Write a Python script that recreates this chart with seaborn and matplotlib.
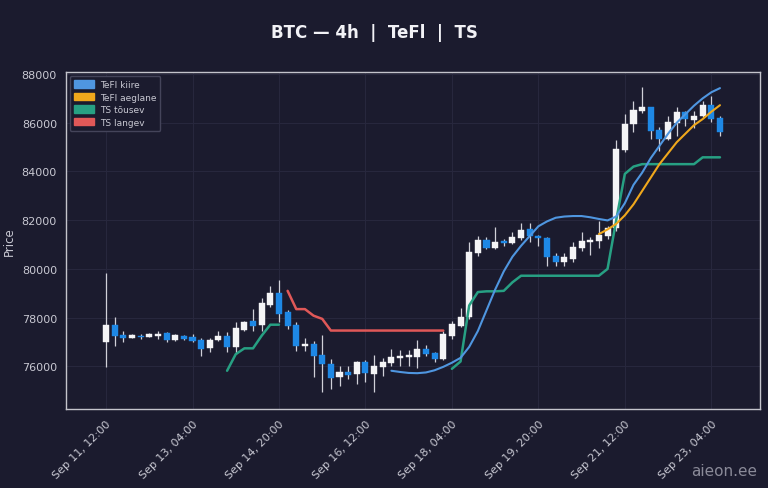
import numpy as np
import pandas as pd
import matplotlib
matplotlib.use("Agg")
import matplotlib.pyplot as plt
import matplotlib.patches as mpatches
import seaborn as sns

# ---- data (4h candles, Sep 11 12:00 -> Sep 23 08:00) ----
opens = [76990, 77696, 77286, 77177, 77260, 77218, 77260, 77368, 77082, 77260,
         77205, 77096, 76740, 77082, 77232, 76780, 77505, 77850, 77710, 78518,
         78998, 78218, 77696, 76850, 76917, 76465, 76096, 75550, 75755, 75685,
         76165, 75685, 75960, 76124, 76330, 76390, 76370, 76710, 76550, 76300,
         77260, 77668, 78012, 80650, 81200, 80845, 81130, 81050, 81255, 81640,
         81365, 81255, 80520, 80270, 80405, 80845, 81120, 81160, 81365, 81665,
         84880, 85950, 86500, 86630, 85700, 85330, 85980, 86430, 86120, 86290,
         86740, 86180]
closes = [77700, 77232, 77150, 77286, 77205, 77340, 77314, 77068, 77273, 77123,
          77055, 76711, 77096, 77232, 76780, 77560, 77832, 77668, 78587, 78998,
          78150, 77643, 76850, 76917, 76437, 76082, 75520, 75755, 75660, 76165,
          75725, 76000, 76165, 76370, 76410, 76450, 76710, 76505, 76300, 77330,
          77740, 78012, 80680, 81200, 80845, 81120, 81075, 81300, 81600, 81340,
          81255, 80480, 80270, 80480, 80890, 81160, 81200, 81390, 81665, 84920,
          85950, 86535, 86630, 85670, 85330, 86010, 86430, 86150, 86260, 86740,
          86150, 85600]
highs = [79831, 78037, 77462, 77340, 77340, 77370, 77450, 77395, 77340, 77300,
         77340, 77178, 77178, 77450, 77397, 77807, 77860, 78340, 78800, 79285,
         79556, 78300, 77807, 77150, 77050, 77290, 76300, 76025, 76000, 76230,
         76275, 76465, 76330, 76710, 76680, 76680, 77096, 76890, 76600, 77470,
         77870, 78380, 81090, 81370, 81300, 81700, 81240, 81500, 81900, 81870,
         81390, 81300, 80650, 80650, 81110, 81500, 81300, 81950, 81750, 85300,
         86360, 86900, 87455, 86630, 85810, 86290, 86630, 86500, 86500, 86900,
         87110, 86290]
lows = [75960, 76822, 76986, 77150, 77123, 77190, 77123, 77000, 77050, 77080,
        76986, 76436, 76573, 77050, 76575, 76506, 77450, 77462, 77460, 78425,
        77807, 77530, 76643, 76640, 75550, 74934, 75070, 75180, 75480, 75275,
        75340, 74960, 75615, 76030, 76030, 76030, 75920, 76410, 76190, 76250,
        77120, 77600, 77943, 80540, 80820, 80820, 80950, 81020, 81200, 81100,
        80950, 80130, 80130, 80130, 80270, 80745, 80570, 80845, 81220, 81570,
        84790, 85600, 86400, 85330, 84850, 85300, 85470, 85870, 85800, 86250,
        86020, 85470]

tefl_fast_start = 33
tefl_fast = [75820, 75770, 75730, 75720, 75750, 75840, 75980, 76150, 76350, 76800,
             77450, 78300, 79150, 79900, 80500, 80950, 81350, 81750, 81950, 82100,
             82150, 82170, 82170, 82120, 82050, 81990, 82150, 82700, 83450, 83950,
             84550, 85050, 85550, 86000, 86350, 86700, 87000, 87250, 87420]
tefl_slow_start = 57
tefl_slow = [81430, 81620, 81850, 82200, 82650, 83200, 83750, 84300, 84750, 85200,
             85550, 85900, 86150, 86450, 86720]
ts_up1_start = 14
ts_up1 = [75820, 76500, 76740, 76740, 77260, 77710, 77710]
ts_up2_start = 40
ts_up2 = [75900, 76200, 78500, 79050, 79080, 79080, 79100, 79450, 79720, 79720,
          79720, 79720, 79720, 79720, 79720, 79720, 79720, 79720, 80000, 82000,
          83900, 84200, 84300, 84300, 84300, 84300, 84300, 84300, 84300, 84580,
          84580, 84580]
ts_down_start = 21
ts_down = [79100, 78350, 78350, 78080, 77950, 77470, 77470, 77470, 77470, 77470,
           77470, 77470, 77470, 77470, 77470, 77470, 77470, 77470, 77470]

tick_pos = [0, 10, 20, 30, 40, 50, 60, 70]
tick_labels = ["Sep 11, 12:00", "Sep 13, 04:00", "Sep 14, 20:00", "Sep 16, 12:00",
               "Sep 18, 04:00", "Sep 19, 20:00", "Sep 21, 12:00", "Sep 23, 04:00"]

# ---- style ----
BG = "#1b1b2e"
UP = "#f4f4f6"
DOWN = "#1e88e5"
WICK = "#d0d0d8"
C_FAST = "#4f96e0"
C_SLOW = "#f0a81c"
C_UP = "#27a083"
C_DOWN = "#e05858"
TXT = "#c8c8d2"

sns.set_theme(style="dark")
plt.rcParams.update({
    "figure.facecolor": BG,
    "axes.facecolor": BG,
    "savefig.facecolor": BG,
    "text.color": TXT,
    "axes.labelcolor": TXT,
    "xtick.color": TXT,
    "ytick.color": TXT,
})
plt.rcParams["font.family"] = ["DejaVu Sans"]

fig = plt.figure(figsize=(7.68, 4.89), dpi=100)
ax = fig.add_axes([66 / 768, 1 - 410 / 489, (760 - 66) / 768, (410 - 73.3) / 489])

df = pd.DataFrame({"i": np.arange(len(opens)), "open": opens, "close": closes,
                   "high": highs, "low": lows})
df["up"] = df["close"] >= df["open"]
df["bot"] = df[["open", "close"]].min(axis=1)
df["h"] = (df["close"] - df["open"]).abs().clip(lower=45)

# wicks
ax.vlines(df["i"], df["low"], df["high"], color=WICK, linewidth=0.9, zorder=2)
# bodies
cols = np.where(df["up"], UP, DOWN)
ax.bar(df["i"], df["h"], bottom=df["bot"], width=0.7, color=cols,
       edgecolor=cols, linewidth=0.3, zorder=3)

def seg(start, vals):
    return pd.DataFrame({"i": np.arange(start, start + len(vals)), "v": vals})

sns.lineplot(data=seg(ts_up1_start, ts_up1), x="i", y="v", ax=ax, color=C_UP, linewidth=1.8, zorder=4)
sns.lineplot(data=seg(ts_up2_start, ts_up2), x="i", y="v", ax=ax, color=C_UP, linewidth=1.8, zorder=4)
sns.lineplot(data=seg(ts_down_start, ts_down), x="i", y="v", ax=ax, color=C_DOWN, linewidth=1.8, zorder=4)
sns.lineplot(data=seg(tefl_fast_start, tefl_fast), x="i", y="v", ax=ax, color=C_FAST, linewidth=1.5, zorder=5)
sns.lineplot(data=seg(tefl_slow_start, tefl_slow), x="i", y="v", ax=ax, color=C_SLOW, linewidth=1.5, zorder=5)

ax.set_xlim(-4.63, 75.63)
ax.set_ylim(74250, 88070)
ax.set_yticks([76000, 78000, 80000, 82000, 84000, 86000, 88000])
ax.set_xticks(tick_pos)
ax.set_xticklabels(tick_labels, rotation=45, ha="right", rotation_mode="anchor", fontsize=8)
ax.tick_params(axis="y", labelsize=8, length=3, color=TXT)
ax.tick_params(axis="x", length=3, color=TXT)
ax.set_xlabel("")
ax.set_ylabel("Price", fontsize=8.5, color=TXT)
ax.grid(True, color="#28283e", linewidth=0.7)
for s in ax.spines.values():
    s.set_color("#c4c4cc")
    s.set_linewidth(1.0)

handles = [mpatches.Patch(color=C_FAST, label="TeFl kiire"),
           mpatches.Patch(color=C_SLOW, label="TeFl aeglane"),
           mpatches.Patch(color=C_UP, label="TS tõusev"),
           mpatches.Patch(color=C_DOWN, label="TS langev")]
leg = ax.legend(handles=handles, loc="upper left", fontsize=6.5, frameon=True,
                facecolor=BG, edgecolor="#44445a", labelcolor=TXT,
                handlelength=2.2, handleheight=0.9, borderpad=0.45, labelspacing=0.4,
                handletextpad=0.7, borderaxespad=0.4)
leg.get_frame().set_alpha(1.0)

fig.text(374 / 768, 1 - 33 / 489, "BTC — 4h  |  TeFl  |  TS", ha="center", va="center",
         fontsize=12, fontweight="bold", color="#f2f2f6")
fig.text(757 / 768, 1 - 472 / 489, "aieon.ee", ha="right", va="center",
         fontsize=11, color="#8a8a98")

fig.savefig("out.png", dpi=100)
